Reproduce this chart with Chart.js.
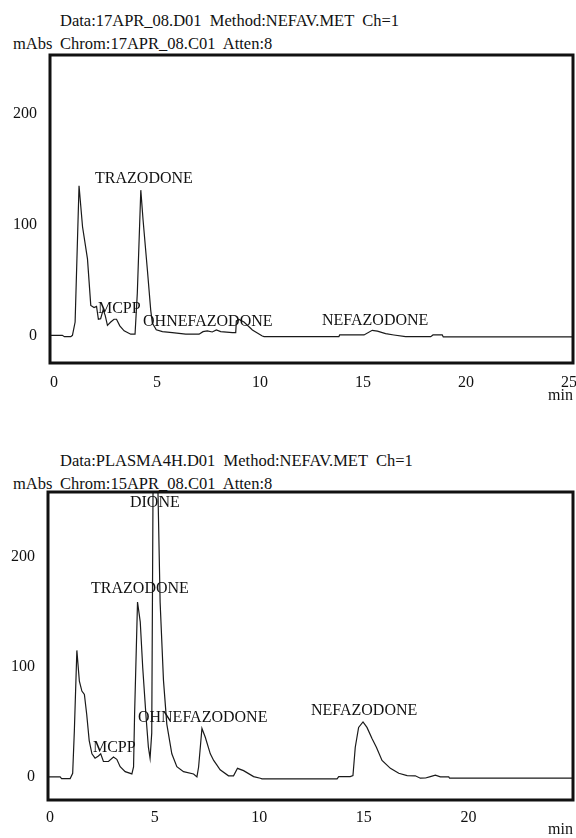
<!DOCTYPE html>
<html>
<head>
<meta charset="utf-8">
<script src="https://cdn.jsdelivr.net/npm/chart.js@4/dist/chart.umd.min.js"></script>
<style>
  body {
    margin: 0;
    background: #fff;
    width: 576px;
    height: 838px;
    position: relative;
    overflow: hidden;
    font-family: "Liberation Serif", "Times New Roman", serif;
    color: #111;
  }
  .hdr {
    position: absolute;
    font-size: 16.5px;
    line-height: 16px;
    white-space: pre;
  }
  canvas {
    position: absolute;
    left: 0;
  }
</style>
</head>
<body>
<div class="hdr" style="left:60px;top:13px">Data:17APR_08.D01  Method:NEFAV.MET  Ch=1</div>
<div class="hdr" style="left:13px;top:36px">mAbs</div>
<div class="hdr" style="left:60px;top:36px">Chrom:17APR_08.C01  Atten:8</div>

<div class="hdr" style="left:60px;top:453px">Data:PLASMA4H.D01  Method:NEFAV.MET  Ch=1</div>
<div class="hdr" style="left:13px;top:476px">mAbs</div>
<div class="hdr" style="left:60px;top:476px">Chrom:15APR_08.C01  Atten:8</div>

<canvas id="topChart" width="576" height="420" style="top:0px"></canvas>
<canvas id="bottomChart" width="576" height="418" style="top:420px"></canvas>

<script>
// ---- data (time in min, absorbance in mAbs) ----
const topTime = [-0.2, 0.4, 0.5, 0.81, 0.89, 1.02, 1.21, 1.38, 1.62, 1.78, 1.94, 2.06, 2.15, 2.26, 2.38,
  2.48, 2.59, 2.75, 2.91, 3.03, 3.19, 3.4, 3.72, 3.93, 4.04, 4.21, 4.32, 4.53, 4.69, 4.77, 4.96, 5.26,
  5.74, 6.39, 7.04, 7.23, 7.44, 7.68, 7.88, 8.09, 8.66, 8.82, 8.85, 8.98, 9.22, 9.63, 10.11, 10.2,
  13.83, 13.87, 15.05, 15.45, 15.7, 16.1, 16.5, 17.07, 18.29, 18.4, 18.85, 18.9, 25.2];
const topAbs = [0, 0, -1.2, -1.2, 0, 12, 135, 98, 69, 27, 25, 26, 14.5, 15, 23,
  18, 9, 12, 14.5, 14.5, 8.5, 4, 1, 1, 38, 131, 104, 59, 23, 11, 5, 3.3,
  2.4, 1, 1, 3.3, 3.9, 3, 4.8, 3.3, 2.4, 2.4, 13, 14.4, 12, 4.8, -0.6, -1.2,
  -1.2, 0.3, 0.3, 4.5, 3.8, 1.5, 0.3, -1.2, -1.2, 0.3, 0.3, -1.5, -1.5];

const bottomTime = [-0.1, 0.48, 0.55, 0.96, 1.08, 1.16, 1.28, 1.4, 1.52, 1.64, 1.75, 1.87, 2.0, 2.15,
  2.31, 2.42, 2.55, 2.79, 3.03, 3.19, 3.35, 3.59, 3.91, 3.99, 4.04, 4.18, 4.31, 4.43, 4.59, 4.7, 4.78,
  4.86, 4.92, 5.04, 5.16, 5.26, 5.42, 5.58, 5.82, 6.06, 6.38, 6.86, 7.02, 7.1, 7.26, 7.42, 7.66, 7.82,
  7.97, 8.13, 8.53, 8.77, 8.96, 9.25, 9.73, 10.05, 10.13, 13.72, 13.8, 14.35, 14.48, 14.59, 14.75,
  14.96, 15.15, 15.39, 15.6, 15.87, 16.27, 16.67, 17.07, 17.46, 17.7, 17.95, 18.18, 18.42, 18.66,
  19.06, 19.1, 25.0];
const bottomAbs = [0, 0, -1.5, -1.5, 3.3, 42, 115, 87, 78, 75, 57, 33, 21, 17,
  19, 21, 14, 14, 18, 16, 9.3, 4.8, 2.7, 9, 57, 159, 141, 99, 54, 27, 17,
  40, 257, 310, 257, 159, 88, 48, 21, 9.3, 4.8, 2.7, 0, 9, 44, 36, 21, 15,
  11, 6.5, 1, 1, 7.8, 5.7, 0.3, -1.2, -1.8, -1.8, 0.3, 0.3, 1.2, 27, 45,
  50, 45, 35, 27, 15, 7.8, 3.3, 1.2, 1, -1.2, -1, 0.3, 1.5, 0,
  0, -1.2, -1.2];

// tick labels
const topXTicks = [0, 5, 10, 15, 20, 25];
const bottomXTicks = [0, 5, 10, 15, 20];
const yTicks = [0, 100, 200];

// peak names, anchored at (time, mAbs) of the text baseline start
const topPeakNames = ["TRAZODONE", "MCPP", "OHNEFAZODONE", "NEFAZODONE"];
const topPeakX = [1.99, 2.13, 4.32, 13.01];
const topPeakY = [137.5, 19.9, 8.4, 9.3];

const bottomPeakNames = ["DIONE", "TRAZODONE", "MCPP", "OHNEFAZODONE", "NEFAZODONE"];
const bottomPeakX = [3.82, 1.96, 2.05, 4.2, 12.47];
const bottomPeakY = [245.4, 167.2, 22.6, 49.9, 56.3];

const serif = "'Liberation Serif', 'Times New Roman', serif";
Chart.defaults.font.family = serif;
Chart.defaults.font.size = 16;
Chart.defaults.color = "#111";

// thick box round the plot area
const framePlugin = {
  id: "frame",
  afterDraw: (chart) => {
    const { ctx, chartArea } = chart;
    ctx.save();
    ctx.strokeStyle = "#111";
    ctx.lineWidth = 3;
    ctx.strokeRect(chartArea.left, chartArea.top, chartArea.right - chartArea.left, chartArea.bottom - chartArea.top);
    ctx.restore();
  },
};

// peak annotations placed through the scales
const peakLabelPlugin = {
  id: "peakLabels",
  afterDatasetsDraw: (chart, args, opts) => {
    const { ctx, scales } = chart;
    ctx.save();
    ctx.font = "16px " + serif;
    ctx.fillStyle = "#111";
    ctx.textAlign = "left";
    ctx.textBaseline = "alphabetic";
    opts.names.forEach((name, i) => {
      ctx.fillText(name, scales.x.getPixelForValue(opts.xs[i]), scales.y.getPixelForValue(opts.ys[i]));
    });
    ctx.restore();
  },
};

const makeChart = (id, cfg) => {
  const points = cfg.time.map((t, i) => ({ x: t, y: cfg.abs[i] }));
  return new Chart(document.getElementById(id).getContext("2d"), {
    type: "line",
    data: {
      datasets: [
        {
          data: points,
          borderColor: "#1a1a1a",
          borderWidth: 1.2,
          pointRadius: 0,
          tension: 0,
          fill: false,
        },
      ],
    },
    options: {
      responsive: false,
      animation: false,
      devicePixelRatio: 1,
      layout: { padding: { top: cfg.padTop, right: 3, left: 0, bottom: 0 } },
      scales: {
        x: {
          type: "linear",
          min: cfg.xMin,
          max: cfg.xMax,
          grid: { display: false },
          border: { display: false },
          ticks: { padding: cfg.xTickPad, maxRotation: 0 },
          afterBuildTicks: (scale) => {
            scale.ticks = cfg.xTicks.map((v) => ({ value: v }));
          },
          afterFit: (scale) => {
            scale.height = cfg.xAxisH;
            // keep the last label from squeezing the plot
            scale.paddingLeft = 0;
            scale.paddingRight = 0;
          },
          title: {
            display: true,
            text: "min",
            align: "end",
            font: { size: 16, lineHeight: 1 },
            padding: { top: 0, bottom: cfg.minPad },
          },
        },
        y: {
          min: cfg.yMin,
          max: cfg.yMax,
          grid: { display: false },
          border: { display: false },
          ticks: { padding: 5 },
          afterBuildTicks: (scale) => {
            scale.ticks = yTicks.map((v) => ({ value: v }));
          },
          afterFit: (scale) => {
            scale.width = cfg.yAxisW;
            scale.paddingTop = 0;
            scale.paddingBottom = 0;
          },
        },
      },
      plugins: {
        legend: { display: false },
        tooltip: { enabled: false },
        peakLabels: { names: cfg.names, xs: cfg.xs, ys: cfg.ys },
      },
    },
    plugins: [framePlugin, peakLabelPlugin],
  });
};

makeChart("topChart", {
  time: topTime,
  abs: topAbs,
  xMin: -0.2,
  xMax: 25.2,
  xTicks: topXTicks,
  yMin: -25,
  yMax: 253,
  padTop: 55,
  yAxisW: 50,
  xAxisH: 57,
  xTickPad: 2,
  minPad: 16,
  names: topPeakNames,
  xs: topPeakX,
  ys: topPeakY,
});

makeChart("bottomChart", {
  time: bottomTime,
  abs: bottomAbs,
  xMin: -0.1,
  xMax: 25.0,
  xTicks: bottomXTicks,
  yMin: -21,
  yMax: 259,
  padTop: 72,
  yAxisW: 48,
  xAxisH: 38,
  xTickPad: 0,
  minPad: 0,
  names: bottomPeakNames,
  xs: bottomPeakX,
  ys: bottomPeakY,
});
</script>
</body>
</html>
